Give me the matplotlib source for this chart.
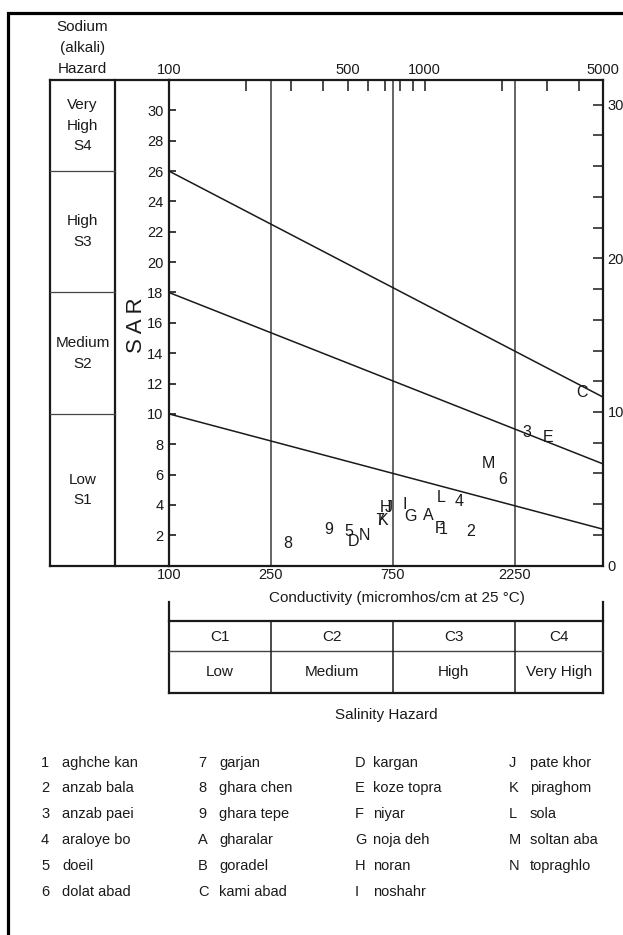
import numpy as np
import matplotlib
matplotlib.use("Agg")
import matplotlib.pyplot as plt
from matplotlib.ticker import FixedLocator, NullFormatter, NullLocator
from matplotlib.transforms import blended_transform_factory as blend

plt.rcParams["font.family"] = ["Liberation Sans", "DejaVu Sans"]
ink = "#1a1a1a"
fs = 11

# --- data ---
ec_lim = [100, 5000]
sar_lim = [0, 32]
top_labels = [100, 500, 1000, 5000]
top_minor = [200, 300, 400, 600, 700, 800, 900, 2000, 3000, 4000]
class_bounds = [250, 750, 2250]
sar_left = [10, 18, 26]      # boundary lines at 100 micromhos
sar_right = [2.4, 6.7, 11.1]  # same lines at 5000 micromhos

salinity_codes = ["C1", "C2", "C3", "C4"]
salinity_names = ["Low", "Medium", "High", "Very High"]
sodium_names = ["Low\nS1", "Medium\nS2", "High\nS3", "Very\nHigh\nS4"]

pt_code = ["1", "2", "3", "4", "5", "6", "7", "8", "9", "A", "C", "D",
           "E", "F", "G", "H", "I", "J", "K", "L", "M", "N"]
pt_ec = [1177, 1514, 2507, 1359, 503, 2014, 665, 291, 423, 1034, 4116, 526,
         3033, 1148, 883, 700, 838, 721, 686, 1166, 1775, 581]
pt_sar = [2.39, 2.24, 8.75, 4.21, 2.24, 5.70, 3.0, 1.47, 2.39, 3.34, 11.38, 1.58,
          8.45, 2.46, 3.27, 3.84, 4.06, 3.84, 2.96, 4.5, 6.74, 2.02]

leg_code = ["1", "2", "3", "4", "5", "6", "7", "8", "9", "A", "B", "C",
            "D", "E", "F", "G", "H", "I", "J", "K", "L", "M", "N"]
leg_name = ["aghche kan", "anzab bala", "anzab paei", "araloye bo", "doeil",
            "dolat abad", "garjan", "ghara chen", "ghara tepe", "gharalar",
            "goradel", "kami abad", "kargan", "koze topra", "niyar", "noja deh",
            "noran", "noshahr", "pate khor", "piraghom", "sola", "soltan aba",
            "topraghlo"]

W, H = 623, 935
fig = plt.figure(figsize=(W / 100, H / 100), dpi=100)
fig.patch.set_facecolor("white")

# main SAR / conductivity panel (pixel box 169..603 x 80..566)
ax = fig.add_axes([169 / W, 1 - 565.7 / H, 434.3 / W, 485.7 / H])
ax.set_xscale("log")
ax.set_xlim(ec_lim)
ax.set_ylim(sar_lim)
for s in ax.spines.values():
    s.set_linewidth(1.6)
    s.set_color(ink)

for b in class_bounds:
    ax.axvline(b, color="#3a3a3a", lw=1.1)
for a, b in zip(sar_left, sar_right):
    ax.plot(ec_lim, [a, b], color=ink, lw=1.1)

for c, x, y in zip(pt_code, pt_ec, pt_sar):
    ax.text(x, y, c, ha="center", va="center", fontsize=11.5, color=ink)

ax.set_xticks([100] + class_bounds)
ax.set_xticklabels([str(v) for v in [100] + class_bounds])
ax.xaxis.set_minor_locator(NullLocator())
ax.tick_params(axis="x", length=0, pad=2, labelsize=10.5, colors=ink)
ax.set_yticks(np.arange(2, 31, 2))
ax.tick_params(axis="y", direction="in", length=5, width=1.2, pad=4,
               labelsize=10.5, colors=ink)

top = ax.twiny()
top.set_xscale("log")
top.set_xlim(ec_lim)
top.set_xticks(top_labels)
top.set_xticklabels([str(v) for v in top_labels])
top.xaxis.set_minor_locator(FixedLocator(top_minor))
top.xaxis.set_minor_formatter(NullFormatter())
top.tick_params(which="both", direction="in", length=8, width=1.1, pad=2,
                labelsize=10.5, colors=ink)

right = ax.twinx()
right.set_ylim(0, 31.6)
right.set_yticks([0, 10, 20, 30])
right.yaxis.set_minor_locator(FixedLocator(np.arange(2, 31, 2)))
right.tick_params(which="both", direction="in", length=7, width=1.1, pad=3,
                  labelsize=10.5, colors=ink)
for t in (top, right):
    for s in t.spines.values():
        s.set_visible(False)

# overlay in pixel coordinates for the surrounding diagram
fx = fig.add_axes([0, 0, 1, 1], zorder=5)
fx.set_xlim(0, W)
fx.set_ylim(H, 0)
fx.axis("off")
px_sar = blend(fx.transData, ax.transData)
ec_px = blend(ax.transData, fx.transData)

# outer frame
fx.plot([8, 8, W], [H, 13, 13], color="black", lw=2.3, solid_joinstyle="miter")

# sodium hazard column
fx.plot([50, 169], [0, 0], color=ink, lw=1.6, transform=px_sar)
fx.plot([50, 169], [32, 32], color=ink, lw=1.6, transform=px_sar)
for xv in (50, 115):
    fx.plot([xv, xv], [0, 32], color=ink, lw=1.6, transform=px_sar)
for v in sar_left:
    fx.plot([50, 115], [v, v], color="#444444", lw=0.9, transform=px_sar)
edges = [0] + sar_left + [32]
for i, name in enumerate(sodium_names):
    fx.text(82.5, (edges[i] + edges[i + 1]) / 2, name, transform=px_sar,
            ha="center", va="center", fontsize=fs, color=ink, linespacing=1.6)
fx.text(82.5, 48, "Sodium\n(alkali)\nHazard", ha="center", va="center",
        fontsize=fs, color=ink, linespacing=1.6)
fx.text(137, 325, "S A R", rotation=90, ha="center", va="center",
        fontsize=16, color=ink)

# salinity hazard table
fx.text(397, 598, "Conductivity (micromhos/cm at 25 \u00b0C)", ha="center",
        va="center", fontsize=fs, color=ink)
for xv in ec_lim:
    fx.plot([xv, xv], [602, 693], color=ink, lw=1.6, transform=ec_px)
fx.plot(ec_lim, [621, 621], color=ink, lw=1.6, transform=ec_px)
fx.plot(ec_lim, [651, 651], color="#444444", lw=1.0, transform=ec_px)
fx.plot(ec_lim, [693, 693], color=ink, lw=1.6, transform=ec_px)
for b in class_bounds:
    fx.plot([b, b], [621, 693], color=ink, lw=1.1, transform=ec_px)
cedges = [ec_lim[0]] + class_bounds + [ec_lim[1]]
for i in range(4):
    xc = np.sqrt(cedges[i] * cedges[i + 1])
    fx.text(xc, 637, salinity_codes[i], transform=ec_px, ha="center",
            va="center", fontsize=fs, color=ink)
    fx.text(xc, 672, salinity_names[i], transform=ec_px, ha="center",
            va="center", fontsize=fs, color=ink)
fx.text(386, 715, "Salinity Hazard", ha="center", va="center", fontsize=fs,
        color=ink)

# site legend
col_code_x = [41, 198, 355, 509]
col_name_x = [62, 219, 373, 530]
row_y = [763, 788, 814, 840, 866, 892]
for k, (c, n) in enumerate(zip(leg_code, leg_name)):
    col, row = divmod(k, 6)
    fx.text(col_code_x[col], row_y[row], c, ha="left", va="center",
            fontsize=10.5, color=ink)
    fx.text(col_name_x[col], row_y[row], n, ha="left", va="center",
            fontsize=10.5, color=ink)

fig.savefig("out.png", dpi=100)
